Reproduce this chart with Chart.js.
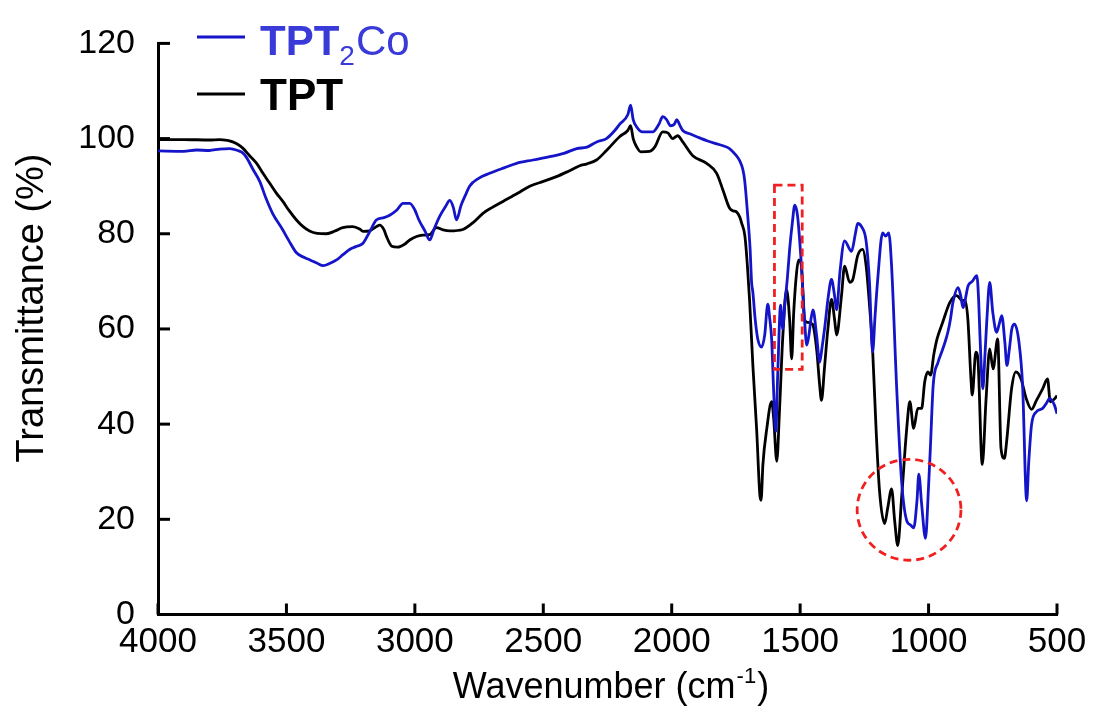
<!DOCTYPE html>
<html>
<head>
<meta charset="utf-8">
<script src="https://cdn.jsdelivr.net/npm/chart.js@4/dist/chart.umd.min.js"></script>
<style>
  html, body { margin: 0; padding: 0; background: #fff; }
  #wrap { width: 1095px; height: 708px; position: relative; }
</style>
</head>
<body>
<div id="wrap"><canvas id="c"></canvas></div>
<script>
const FONT = '"Liberation Sans", Arial, Helvetica, sans-serif';

// Axis ticks
const xTicks = [4000, 3500, 3000, 2500, 2000, 1500, 1000, 500];
const yTicks = [0, 20, 40, 60, 80, 100, 120];

// Series names
const seriesNames = ['TPT2Co', 'TPT'];

// TPT2Co spectrum: wavenumber (cm-1) and transmittance (%)
const tpt2coWn = [4000,3900,3850,3800,3760,3720,3690,3670,3655,3630,3604,3580,3554,3514,3490,3461,3430,3408,3380,3357,3330,3305,3280,3254,3230,3202,3175,3150,3120,3098,3070,3046,3020,3000,2985,2960,2942,2925,2903,2880,2864,2850,2838,2820,2800,2787,2750,2709,2650,2604,2540,2475,2420,2370,2330,2292,2254,2220,2203,2171,2160,2150,2137,2113,2074,2050,2035,2020,2005,1990,1980,1970,1957,1930,1903,1860,1825,1800,1775,1750,1736,1723,1716,1704,1695,1689,1684,1675,1665,1650,1638,1626,1618,1611,1603,1595,1587,1576,1568,1560,1550,1541,1530,1521,1510,1495,1483,1474,1465,1458,1450,1436,1424,1415,1405,1390,1378,1366,1358,1345,1327,1300,1285,1276,1261,1243,1230,1218,1208,1198,1179,1167,1155,1144,1124,1105,1085,1070,1058,1045,1038,1027,1012,1000,993,982,963,950,936,925,915,905,885,875,866,846,830,812,805,800,789,780,773,762,750,735,725,715,703,695,685,676,665,648,634,618,610,599,580,556,540,529,510,500];
const tpt2coT  = [97.4,97.3,97.6,97.5,97.8,97.9,97.5,97.0,96.0,93.5,91.0,87.5,84.3,80.8,78.5,76.0,75.0,74.5,73.8,73.3,73.8,74.5,75.6,76.7,77.3,78.0,80.5,82.9,83.4,83.9,85.0,86.4,86.4,85.0,83.0,80.5,78.7,81.0,83.7,85.8,87.0,85.5,82.9,86.0,88.5,90.0,91.7,92.7,93.9,94.8,95.5,96.2,96.9,97.9,98.2,99.3,100.0,101.8,103.0,105.0,107.0,104.0,102.5,101.4,101.4,103.0,104.6,104.0,102.7,103.0,104.0,103.0,101.7,101.0,100.4,99.5,98.9,98.5,97.9,96.5,95.4,93.5,91.2,83.7,77.0,69.8,67.7,62.0,57.9,56.2,58.7,65.2,62.0,57.9,46.8,38.5,51.0,65.0,60.0,65.0,70.5,76.7,82.5,86.0,83.7,73.3,62.0,56.6,59.0,62.0,64.0,58.7,53.0,56.0,60.0,67.0,70.4,67.0,64.0,72.0,78.5,76.3,80.0,82.2,81.5,78.4,69.8,55.1,63.0,70.4,80.2,79.5,80.2,73.2,47.4,28.0,19.7,18.8,18.2,24.0,29.5,23.2,16.0,27.0,35.0,48.2,53.0,55.0,57.2,59.3,62.0,65.6,68.7,67.0,64.5,69.1,70.0,71.2,66.0,58.7,47.4,55.0,62.0,69.8,63.5,59.3,61.0,62.8,57.2,52.3,56.0,60.0,61.0,57.2,48.2,23.9,32.0,39.9,42.6,43.3,44.5,45.4,44.0,42.2];

// TPT spectrum: wavenumber (cm-1) and transmittance (%)
const tptWn = [4000,3900,3800,3760,3730,3709,3690,3670,3645,3616,3590,3565,3540,3514,3490,3461,3435,3410,3380,3344,3310,3281,3242,3215,3202,3176,3150,3137,3120,3111,3090,3067,3040,3020,2970,2943,2916,2890,2864,2813,2770,2735,2700,2657,2600,2553,2500,2449,2400,2358,2330,2293,2254,2203,2171,2160,2150,2137,2120,2086,2065,2035,2015,1996,1977,1957,1918,1864,1825,1800,1775,1760,1748,1735,1728,1715,1705,1697,1684,1669,1657,1652,1645,1630,1611,1603,1591,1580,1568,1553,1541,1533,1525,1514,1506,1495,1483,1471,1452,1436,1424,1417,1405,1392,1378,1366,1358,1339,1327,1307,1295,1276,1257,1243,1230,1218,1204,1191,1171,1159,1144,1132,1120,1105,1085,1073,1058,1042,1027,1015,1003,992,980,967,945,917,890,870,858,847,835,830,816,808,791,776,762,749,731,718,705,696,677,660,640,620,599,580,556,537,526,508,500];
const tptT  = [99.8,99.8,99.7,99.8,99.6,99.3,98.8,98.0,96.5,94.8,92.6,90.6,88.6,86.8,84.9,82.9,81.5,80.6,80.1,80.0,80.6,81.3,81.5,81.0,80.5,80.6,81.5,81.8,80.8,79.5,77.4,77.2,77.8,78.7,79.7,79.8,81.3,80.8,80.6,80.9,82.5,84.3,85.5,86.8,88.5,90.0,91.0,92.0,93.2,94.3,94.7,95.5,97.5,100.4,101.7,102.7,100.0,98.3,97.2,97.3,98.3,101.4,101.2,100.0,100.6,99.3,96.4,94.8,92.7,89.1,85.4,84.8,84.6,83.5,82.3,79.5,73.0,66.2,52.3,38.5,25.2,24.0,31.5,39.0,44.7,41.2,32.2,43.3,57.9,68.3,62.0,53.7,63.5,71.8,74.5,73.2,62.0,61.4,61.0,55.8,48.2,45.0,52.0,60.0,66.2,62.0,58.7,67.0,73.2,69.8,70.4,75.4,76.7,73.2,65.0,55.8,38.5,26.0,19.1,22.4,26.4,19.7,14.5,24.5,39.1,44.7,39.1,43.3,43.3,48.9,51.0,50.3,54.5,57.9,61.4,65.6,67.0,66.0,66.0,62.0,49.5,46.1,55.1,53.7,31.5,45.4,55.8,51.6,57.9,34.9,32.8,36.4,47.4,51.0,49.5,45.4,43.1,45.0,47.4,49.5,44.7,45.4,46.0];

// Highlighted regions (data units)
const boxWn = [1600, 1492];
const boxT = [90.2, 51.5];
const ringCenter = [1076, 22.0];
const ringRadius = [202, 10.6];

const BLUE = '#1414c8';
const BLUE_TEXT = '#3a3ad8';

function toPoints(xs, ys) {
  return xs.map((v, i) => ({ x: v, y: ys[i] }));
}

const decor = {
  id: 'decor',
  afterDatasetsDraw(chart) {
    const { ctx, scales: { x, y } } = chart;
    ctx.save();
    ctx.strokeStyle = '#f02020';
    ctx.lineWidth = 2.8;
    ctx.setLineDash([8, 5]);
    const bx0 = x.getPixelForValue(boxWn[0]);
    const bx1 = x.getPixelForValue(boxWn[1]);
    const by0 = y.getPixelForValue(boxT[0]);
    const by1 = y.getPixelForValue(boxT[1]);
    ctx.strokeRect(bx0, by0, bx1 - bx0, by1 - by0);
    const cx = x.getPixelForValue(ringCenter[0]);
    const cy = y.getPixelForValue(ringCenter[1]);
    const rx = Math.abs(x.getPixelForValue(ringCenter[0] - ringRadius[0]) - cx);
    const ry = Math.abs(y.getPixelForValue(ringCenter[1] + ringRadius[1]) - cy);
    ctx.beginPath();
    ctx.ellipse(cx, cy, rx, ry, 0, 0, Math.PI * 2);
    ctx.stroke();
    ctx.restore();
  },
  afterDraw(chart) {
    const { ctx, chartArea: a, scales: { x, y } } = chart;
    ctx.save();
    // inward tick marks
    ctx.strokeStyle = '#000';
    ctx.lineWidth = 3;
    ctx.setLineDash([]);
    xTicks.forEach(v => {
      const px = x.getPixelForValue(v);
      ctx.beginPath();
      ctx.moveTo(px, a.bottom);
      ctx.lineTo(px, a.bottom - 11);
      ctx.stroke();
    });
    yTicks.forEach(v => {
      const py = y.getPixelForValue(v);
      ctx.beginPath();
      ctx.moveTo(a.left, py);
      ctx.lineTo(a.left + 12, py);
      ctx.stroke();
    });

    // y axis title
    ctx.fillStyle = '#000';
    ctx.save();
    ctx.translate(43, 308);
    ctx.rotate(-Math.PI / 2);
    ctx.font = '38px ' + FONT;
    ctx.textAlign = 'center';
    ctx.textBaseline = 'alphabetic';
    ctx.fillText('Transmittance (%)', 0, 0);
    ctx.restore();

    // x axis title with superscript
    const main = 'Wavenumber (cm';
    const sup = '-1';
    const close = ')';
    ctx.textAlign = 'left';
    ctx.textBaseline = 'alphabetic';
    ctx.font = '36px ' + FONT;
    const w1 = ctx.measureText(main).width;
    const w3 = ctx.measureText(close).width;
    ctx.font = '22px ' + FONT;
    const w2 = ctx.measureText(sup).width;
    const total = w1 + w2 + w3 + 2;
    let tx = 611 - total / 2;
    const base = 698;
    ctx.font = '36px ' + FONT;
    ctx.fillText(main, tx, base);
    tx += w1 + 1;
    ctx.font = '22px ' + FONT;
    ctx.fillText(sup, tx, base - 15);
    tx += w2 + 1;
    ctx.font = '36px ' + FONT;
    ctx.fillText(close, tx, base);

    // legend
    ctx.lineWidth = 3;
    ctx.strokeStyle = BLUE;
    ctx.beginPath(); ctx.moveTo(197, 37); ctx.lineTo(245, 37); ctx.stroke();
    ctx.strokeStyle = '#000';
    ctx.beginPath(); ctx.moveTo(197, 94); ctx.lineTo(245, 94); ctx.stroke();

    ctx.fillStyle = BLUE_TEXT;
    let lx = 260;
    ctx.font = 'bold 42px ' + FONT;
    ctx.fillText('TPT', lx, 55);
    lx += ctx.measureText('TPT').width;
    ctx.font = '28px ' + FONT;
    ctx.fillText('2', lx, 65);
    lx += ctx.measureText('2').width + 1;
    ctx.font = '42px ' + FONT;
    ctx.fillText('Co', lx, 55);

    ctx.fillStyle = '#000';
    ctx.font = 'bold 44px ' + FONT;
    ctx.fillText(seriesNames[1], 260, 110);
    ctx.restore();
  }
};

new Chart(document.getElementById('c'), {
  type: 'line',
  data: {
    datasets: [
      {
        label: seriesNames[0],
        data: toPoints(tpt2coWn, tpt2coT),
        borderColor: BLUE,
        borderWidth: 2.8,
        pointRadius: 0,
        fill: false,
        cubicInterpolationMode: 'monotone'
      },
      {
        label: seriesNames[1],
        data: toPoints(tptWn, tptT),
        borderColor: '#000',
        borderWidth: 2.8,
        pointRadius: 0,
        fill: false,
        cubicInterpolationMode: 'monotone'
      }
    ]
  },
  options: {
    responsive: true,
    maintainAspectRatio: false,
    animation: false,
    events: [],
    layout: { padding: { left: 0, top: 39, right: 38, bottom: 0 } },
    plugins: { legend: { display: false }, tooltip: { enabled: false } },
    scales: {
      x: {
        type: 'linear',
        reverse: true,
        min: 500,
        max: 4000,
        afterBuildTicks: s => { s.ticks = xTicks.map(v => ({ value: v })); },
        afterFit: s => { s.height = 93.5; },
        grid: { display: false, drawTicks: false },
        border: { display: true, color: '#000', width: 3 },
        ticks: {
          color: '#000',
          font: { family: FONT, size: 35 },
          padding: 7,
          maxRotation: 0,
          autoSkip: false,
          callback: v => String(v)
        }
      },
      y: {
        type: 'linear',
        min: 0,
        max: 120,
        afterBuildTicks: s => { s.ticks = yTicks.map(v => ({ value: v })); },
        afterFit: s => { s.width = 158; },
        grid: { display: false, drawTicks: false },
        border: { display: true, color: '#000', width: 3 },
        ticks: {
          color: '#000',
          font: { family: FONT, size: 34 },
          padding: 23,
          callback: v => String(v)
        }
      }
    }
  },
  plugins: [decor]
});
</script>
</body>
</html>
